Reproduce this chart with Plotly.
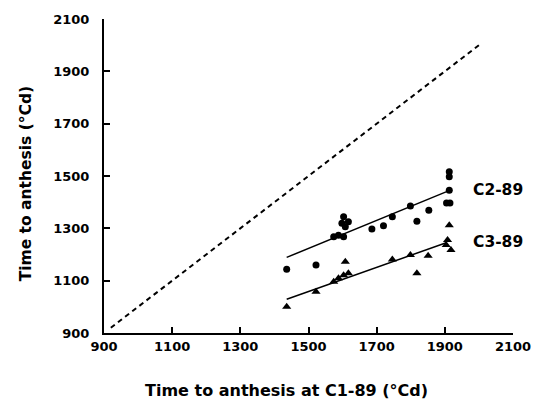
import plotly.graph_objects as go

# Time to anthesis (°Cd): sowing C1-89 on x, later sowings on y
c2_x = [1436, 1522, 1574, 1588, 1598, 1603, 1603, 1608, 1617, 1686, 1720, 1746,
        1799, 1818, 1853, 1905, 1915, 1913, 1913, 1913]
c2_y = [1144, 1160, 1268, 1274, 1319, 1344, 1268, 1306, 1325, 1297, 1310, 1344,
        1385, 1327, 1369, 1397, 1397, 1446, 1497, 1516]

c3_x = [1436, 1522, 1574, 1588, 1603, 1617, 1608, 1746, 1799, 1818, 1851,
        1908, 1904, 1918, 1913]
c3_y = [1000, 1058, 1096, 1109, 1121, 1128, 1172, 1181, 1198, 1128, 1195,
        1255, 1236, 1217, 1312]

# fitted regression lines
c2_fit_x = [1436, 1916]
c2_fit_y = [1189, 1446]
c3_fit_x = [1436, 1904]
c3_fit_y = [1029, 1245]

# 1:1 line
diag_x = [920, 2000]
diag_y = [920, 2000]

ticks = [900, 1100, 1300, 1500, 1700, 1900, 2100]
series_labels = ["C2-89", "C3-89"]
label_x = [1976, 1976]
label_y = [1447, 1248]

FONT = "DejaVu Sans"

fig = go.Figure()
fig.add_trace(go.Scatter(x=diag_x, y=diag_y, mode="lines",
                         line=dict(color="black", width=2, dash="5px,4px")))
fig.add_trace(go.Scatter(x=c2_fit_x, y=c2_fit_y, mode="lines",
                         line=dict(color="black", width=1.5)))
fig.add_trace(go.Scatter(x=c3_fit_x, y=c3_fit_y, mode="lines",
                         line=dict(color="black", width=1.5)))
fig.add_trace(go.Scatter(x=c2_x, y=c2_y, mode="markers",
                         marker=dict(symbol="circle", size=7, color="black")))
fig.add_trace(go.Scatter(x=c3_x, y=c3_y, mode="markers",
                         marker=dict(symbol="triangle-up", size=8, color="black")))

for name, lx, ly in zip(series_labels, label_x, label_y):
    fig.add_annotation(x=lx, y=ly, text=name, showarrow=False,
                       xanchor="left", yanchor="middle",
                       font=dict(family=FONT, size=15.5, color="black", weight="bold"))

# axis titles
fig.add_annotation(xref="paper", yref="paper", x=0.446, y=-0.145,
                   text="Time to anthesis at C1-89 (°Cd)", showarrow=False,
                   xanchor="center", yanchor="top",
                   font=dict(family=FONT, size=16, color="black", weight="bold"))
fig.add_annotation(xref="paper", yref="paper", x=-0.192, y=0.475,
                   text="Time to anthesis (°Cd)", showarrow=False, textangle=-90,
                   xanchor="center", yanchor="middle",
                   font=dict(family=FONT, size=15.5, color="black", weight="bold"))

axis_common = dict(
    tickvals=ticks, ticktext=[str(t) for t in ticks],
    showgrid=False, zeroline=False, showline=True, linecolor="black", linewidth=2,
    ticks="inside", ticklen=6, tickwidth=1.5, tickcolor="black",
    tickfont=dict(family=FONT, size=13, color="black", weight="bold"),
    range=[900, 2100],
)

fig.update_layout(
    width=543, height=400,
    margin=dict(l=104, r=20, t=19, b=67),
    paper_bgcolor="white", plot_bgcolor="white",
    showlegend=False,
    xaxis=dict(**axis_common),
    yaxis=dict(**axis_common, ticklabelstandoff=10),
)

fig.write_html("out.html")
